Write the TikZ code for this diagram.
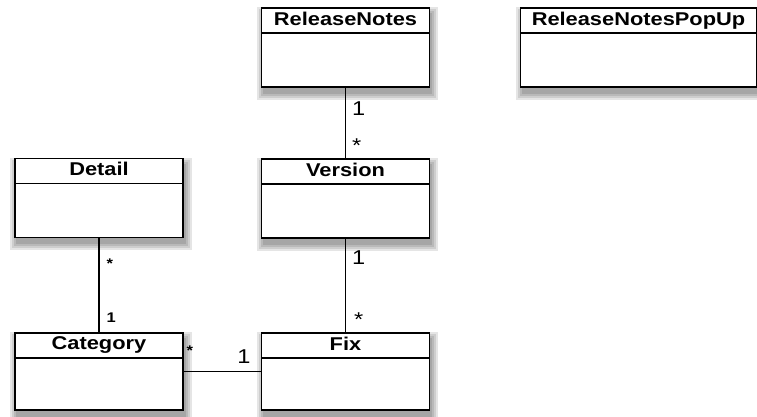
\documentclass[tikz,border=0pt]{standalone}
\usepackage{fontspec}
\newfontfamily\umlfont[FakeStretch=1.18]{Liberation Sans}
\usetikzlibrary{backgrounds}

\begin{document}
\begin{tikzpicture}[x=1pt, y=-1pt,
  class/.style={draw, line width=1.2pt, fill=white, minimum width=168pt, minimum height=79pt, inner sep=0pt,
    path picture={\draw[line width=1.2pt] ([yshift=-25pt]path picture bounding box.north west) -- ([yshift=-25pt]path picture bounding box.north east);}},
  title/.style={anchor=north, inner sep=0pt, yshift=-4pt, font=\umlfont\bfseries\fontsize{18.5}{20}\selectfont},
  mult/.style={font=\umlfont\fontsize{20}{22}\selectfont, inner sep=0pt},
  smallmult/.style={font=\umlfont\bfseries\fontsize{14}{16}\selectfont, inner sep=0pt}]
\useasboundingbox (0,0) rectangle (757,416);

\node[class, label={[title]north:ReleaseNotes}] (notes) at (345.5,47.5) {};
\node[class, minimum width=236pt, label={[title]north:ReleaseNotesPopUp}] (popup) at (638.5,47.5) {};
\node[class, label={[title]north:Detail}] (detail) at (99,198) {};
\node[class, label={[title]north:Version}] (version) at (345.5,198.5) {};
\node[class, minimum height=77pt, label={[title]north:Category}] (category) at (99,371.5) {};
\node[class, minimum height=77pt, label={[title]north:Fix}] (fix) at (345.5,371.5) {};

\draw[line width=1.2pt] (notes) -- (version)
  node[mult, pos=0.29, right=6pt] {1} node[mult, pos=0.82, right=6pt] {*};
\draw[line width=1.2pt] (version) -- (fix)
  node[mult, pos=0.2, right=6pt] {1} node[mult, pos=0.86, right=8pt] {*};
\draw[line width=1.2pt] (detail) -- (category)
  node[smallmult, pos=0.27, right=7pt] {*} node[smallmult, pos=0.84, right=7pt] {1};
\draw[line width=1.2pt] (category) -- (fix)
  node[smallmult, pos=0.08, yshift=21pt] {*} node[mult, pos=0.78, yshift=15pt] {1};

% soft shadows
\begin{scope}[on background layer]
\foreach \n in {notes,popup,detail,version,category,fix}
  \foreach \s in {0,2,4,6}
    \fill[black, opacity=0.1] ([xshift=2pt-\s pt, yshift=-6pt-\s pt]\n.south west)
      rectangle ([xshift=2pt+\s pt, yshift=-6pt+\s pt]\n.north east);
\end{scope}
\end{tikzpicture}
\end{document}
